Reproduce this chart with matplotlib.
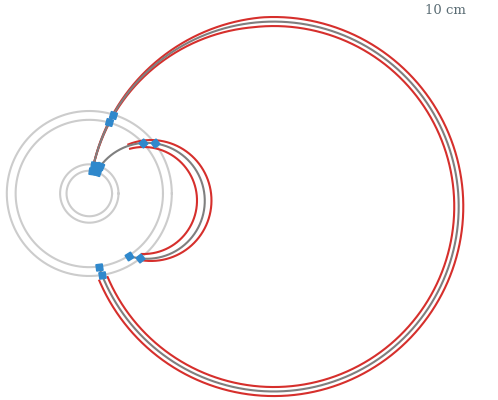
import numpy as np
import matplotlib.pyplot as plt

# detector layers (radius in cm, centred on the beam)
layer_radii = [2.76, 3.54, 8.93, 10.0]

# reconstructed tracks (circle in the transverse plane, starting at the origin)
track_cx = [22.36, 6.97]
track_cy = [-1.58, -0.885]
track_start = [168.9, 150.1]     # deg around the track centre
track_end = [-161.05, -108.3]

# hits on the layers
hits_x = [[0.364, 0.527, 2.391, 2.912, 1.538, 1.158],
          [0.881, 1.315, 6.500, 7.940, 6.171, 4.762]]
hits_y = [[2.740, 3.500, 8.607, 9.567, -9.881, -8.858],
          [2.620, 3.286, 6.128, 6.078, -7.869, -7.558]]

# uncertainty band of the large track: curvature spread and where it levels off
big_band_dr = 0.65
big_band_switch = 95.0
big_band_end = -157.0

# uncertainty band of the small track (outer, inner)
small_band_cx = [7.479, 6.57]
small_band_cy = [-0.848, -0.848]
small_band_r = [7.33, 6.485]
small_band_start = [112.0, 104.6]
small_band_end = [-100.3, -91.8]

px = 8.25  # pixels per cm in the output
ox, oy = 89.3, 193.5


def arc(cx, cy, r, t0, t1, n=500):
    t = np.radians(np.linspace(t0, t1, n))
    return cx + r * np.cos(t), cy + r * np.sin(t)


fig = plt.figure(figsize=(4.98, 4.0), dpi=100)
ax = fig.add_axes([0, 0, 1, 1])
ax.set_xlim(-ox / px, (498 - ox) / px)
ax.set_ylim(-(400 - oy) / px, oy / px)
ax.set_aspect('equal')
ax.axis('off')

# layers
for R in layer_radii:
    x, y = arc(0, 0, R, 0, 360)
    ax.plot(x, y, color='#cccccc', lw=1.5, zorder=1)

red = '#d62f2c'
grey = '#7f7f7f'

# large track band: tangent at the origin first, then a constant offset
cx, cy = track_cx[0], track_cy[0]
r = np.hypot(cx, cy)
for s in [1, -1]:
    k = (r + s * big_band_dr) / r
    x1, y1 = arc(cx * k, cy * k, r + s * big_band_dr, track_start[0], big_band_switch)
    # carry on around the track centre from where the first piece stops
    t_sw = np.degrees(np.arctan2(y1[-1] - cy, x1[-1] - cx))
    r_sw = np.hypot(x1[-1] - cx, y1[-1] - cy)
    x2, y2 = arc(cx, cy, r_sw, t_sw, big_band_end)
    ax.plot(np.concatenate([x1, x2]), np.concatenate([y1, y2]), color=red, lw=1.5, zorder=2)

# small track band
for i in range(2):
    x, y = arc(small_band_cx[i], small_band_cy[i], small_band_r[i],
               small_band_start[i], small_band_end[i])
    ax.plot(x, y, color=red, lw=1.5, zorder=2)

# track centre lines
for i in range(2):
    r = np.hypot(track_cx[i], track_cy[i])
    x, y = arc(track_cx[i], track_cy[i], r, track_start[i], track_end[i])
    ax.plot(x, y, color=grey, lw=1.5, zorder=3)

# hits, drawn as modules facing the beam
for i in range(2):
    for hx, hy in zip(hits_x[i], hits_y[i]):
        phi = np.degrees(np.arctan2(hy, hx))
        ax.plot(hx, hy, marker=(4, 0, 45 + phi), ms=6.5, color='#2f88cc',
                mec='#2f88cc', zorder=4)

fig.text(466 / 498, 1 - 11 / 400, '10 cm', ha='right', va='center',
         family='DejaVu Serif', fontsize=9.5, color='#5a6c74')

plt.savefig('out.png', dpi=100)
